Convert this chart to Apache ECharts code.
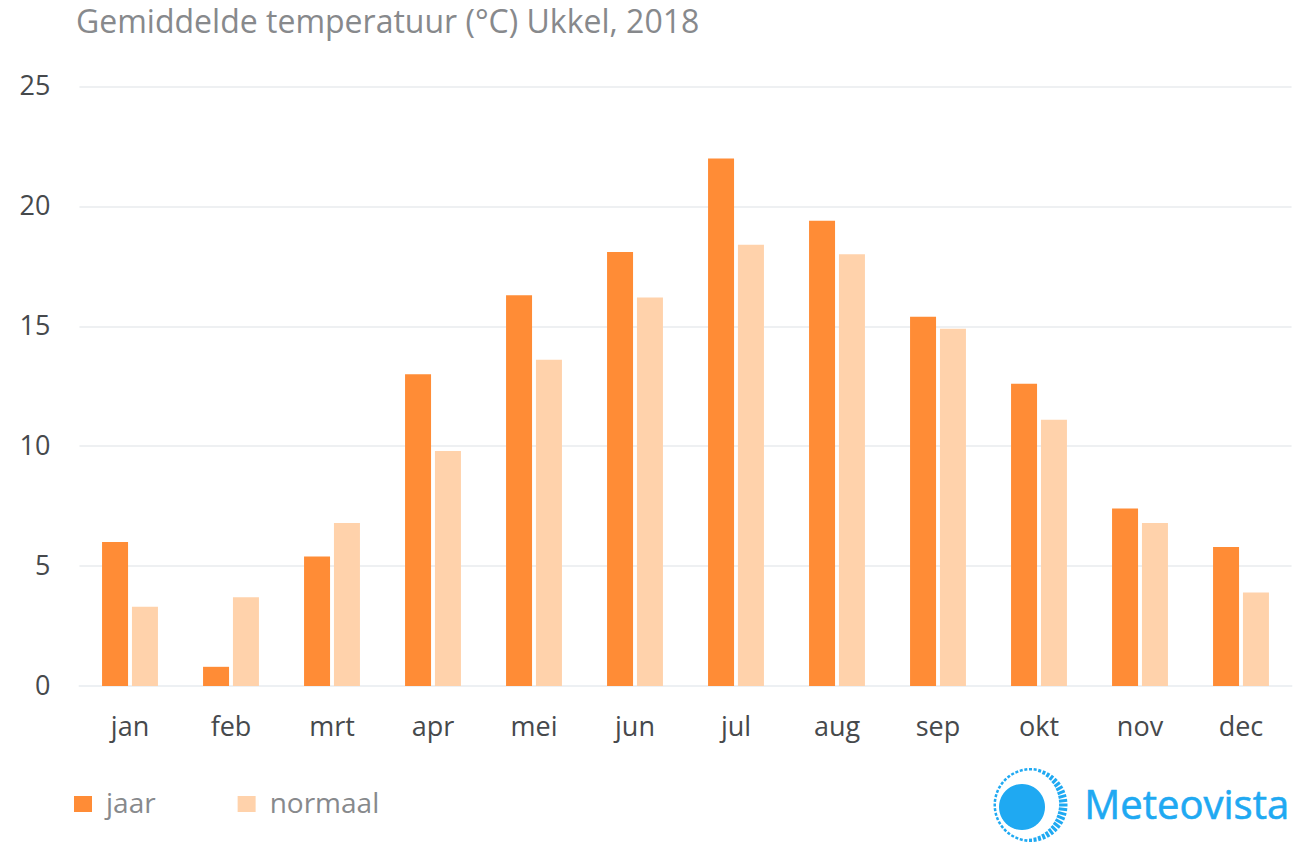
<!DOCTYPE html>
<html><head><meta charset="utf-8">
<style>html,body{margin:0;padding:0;background:#fff}#c{width:1304px;height:854px}</style>
<script src="https://cdn.jsdelivr.net/npm/echarts@6/dist/echarts.min.js"></script>
</head><body><div id="c"></div>
<script>
const categories=['jan','feb','mrt','apr','mei','jun','jul','aug','sep','okt','nov','dec'];
const jaar=[6.0,0.8,5.4,13.0,16.3,18.1,22.0,19.4,15.4,12.6,7.4,5.8];
const normaal=[3.3,3.7,6.8,9.8,13.6,16.2,18.4,18.0,14.9,11.1,6.8,3.9];
const yTicks={min:0,max:25,interval:5};
const font='"Open Sans"';
const logoBlue='#1fa9f2';
// Decorative logo ring: tick length varies around the sun
const rays=[];
for(let i=0;i<48;i++){
  const a=i/48*2*Math.PI, ux=Math.cos(a), uy=Math.sin(a);
  const len=2.5+6*Math.max(0,Math.cos(a-0.15));
  rays.push({type:'line',shape:{x1:1030.5+37*ux,y1:805+37*uy,x2:1030.5+(37-len)*ux,y2:805+(37-len)*uy},
    style:{stroke:logoBlue,lineWidth:3}});
}
const chart=echarts.init(document.getElementById('c'),null,{renderer:'svg'});
chart.setOption({
 animation:false,
 title:{text:'Gemiddelde temperatuur (°C) Ukkel, 2018',left:71,top:-1,textStyle:{fontFamily:font,fontSize:32,fontWeight:'normal',color:'#87898c'}},
 grid:{left:79.5,right:12.5,top:86.5,bottom:168},
 legend:{left:69,top:783,itemWidth:18,itemHeight:16,itemGap:82,icon:'rect',
  formatter:'{t|{name}}',
  textStyle:{fontFamily:font,fontSize:28,color:'#87898c',padding:[0,0,0,9],
   rich:{t:{fontFamily:font,fontSize:28,color:'#87898c',padding:[0,0,4,0]}}},data:['jaar','normaal']},
 xAxis:{type:'category',data:categories,axisTick:{show:false},
  axisLine:{lineStyle:{color:'#edf0f3',width:2}},
  axisLabel:{fontFamily:font,fontSize:27,color:'#46494c',margin:26}},
 yAxis:{type:'value',...yTicks,axisLine:{show:false},axisTick:{show:false},
  splitLine:{lineStyle:{color:'#eef0f2',width:2}},
  axisLabel:{fontFamily:font,fontSize:27,color:'#46494c',margin:29,verticalAlign:'bottom',lineHeight:4}},
 series:[
  {name:'jaar',type:'bar',data:jaar,barWidth:26,barGap:'15%',itemStyle:{color:'#ff8c36'}},
  {name:'normaal',type:'bar',data:normaal,barWidth:26,itemStyle:{color:'#ffd2ab'}}
 ],
 graphic:[
  {type:'circle',shape:{cx:1022,cy:807,r:23},style:{fill:logoBlue}},
  ...rays,
  {type:'text',left:1084,top:783,style:{text:'Meteovista',fontFamily:font,fontSize:40,fill:logoBlue,stroke:logoBlue,lineWidth:0.6}}
 ]
});
</script></body></html>
